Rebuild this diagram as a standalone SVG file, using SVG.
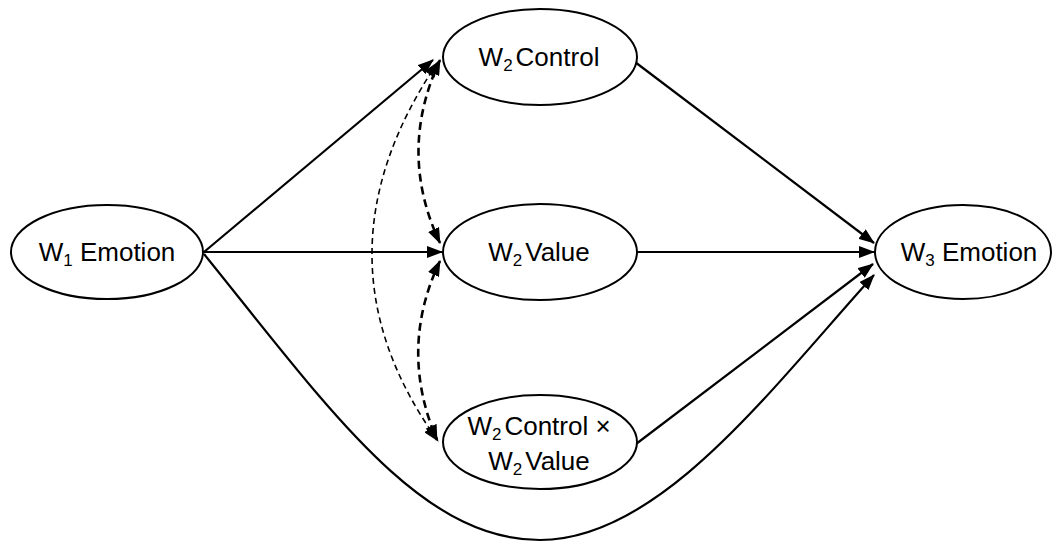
<svg xmlns="http://www.w3.org/2000/svg" width="1057" height="543" viewBox="0 0 1057 543">
<defs>
<marker id="ah" viewBox="0 0 16 12" refX="15" refY="6" markerWidth="16" markerHeight="12" markerUnits="userSpaceOnUse" orient="auto-start-reverse">
<path d="M0,0 L16,6 L0,12 Z" fill="#000"/>
</marker>
</defs>
<style>
.node ellipse{fill:#fff;stroke:#000;stroke-width:2}
.node text{font-family:"Liberation Sans",Arial,sans-serif;font-size:26px;fill:#000;text-anchor:middle}
.sub{font-size:17px}
.solid{fill:none;stroke:#000;stroke-width:2.2;marker-end:url(#ah)}
.dash1{fill:none;stroke:#000;stroke-width:1.6;stroke-dasharray:6 4;marker-start:url(#ah);marker-end:url(#ah)}
.dash2{fill:none;stroke:#000;stroke-width:2.6;stroke-dasharray:8 5;marker-start:url(#ah);marker-end:url(#ah)}
</style>
<rect width="1057" height="543" fill="#fff"/>
<g id="connectors">
<path class="solid" d="M204,252 L433,60"/>
<path class="solid" d="M204,252 L442,252"/>
<path class="solid" d="M204,254 C330,410 420,540 540,540 S770,390 874,275"/>
<path class="solid" d="M635,62 L874,243"/>
<path class="solid" d="M637,252 L874,252"/>
<path class="solid" d="M636,444 L873,264"/>
<path class="dash2" d="M440,60 Q397,152 440,243"/>
<path class="dash2" d="M440,261 Q398,349 437,440"/>
<path class="dash1" d="M438,62 Q306,257 438,441"/>
</g>
<g id="w1" class="node">
<ellipse cx="107" cy="252" rx="96" ry="47"/>
<text x="107" y="261">W<tspan class="sub" dy="5">1</tspan><tspan dy="-5"> Emotion</tspan></text>
</g>
<g id="w2control" class="node">
<ellipse cx="540" cy="57" rx="97" ry="48"/>
<text x="539" y="66">W<tspan class="sub" dy="5">2</tspan><tspan dy="-5" dx="3">Control</tspan></text>
</g>
<g id="w2value" class="node">
<ellipse cx="540" cy="252" rx="97" ry="48"/>
<text x="539" y="261">W<tspan class="sub" dy="5">2</tspan><tspan dy="-5" dx="3">Value</tspan></text>
</g>
<g id="w2cxv" class="node">
<ellipse cx="540" cy="442" rx="97" ry="47"/>
<text x="539" y="435">W<tspan class="sub" dy="5">2</tspan><tspan dy="-5" dx="3">Control ×</tspan></text>
<text x="539" y="470">W<tspan class="sub" dy="5">2</tspan><tspan dy="-5" dx="3">Value</tspan></text>
</g>
<g id="w3" class="node">
<ellipse cx="963" cy="252" rx="88" ry="47"/>
<text x="969" y="261">W<tspan class="sub" dy="5">3</tspan><tspan dy="-5"> Emotion</tspan></text>
</g>
</svg>
